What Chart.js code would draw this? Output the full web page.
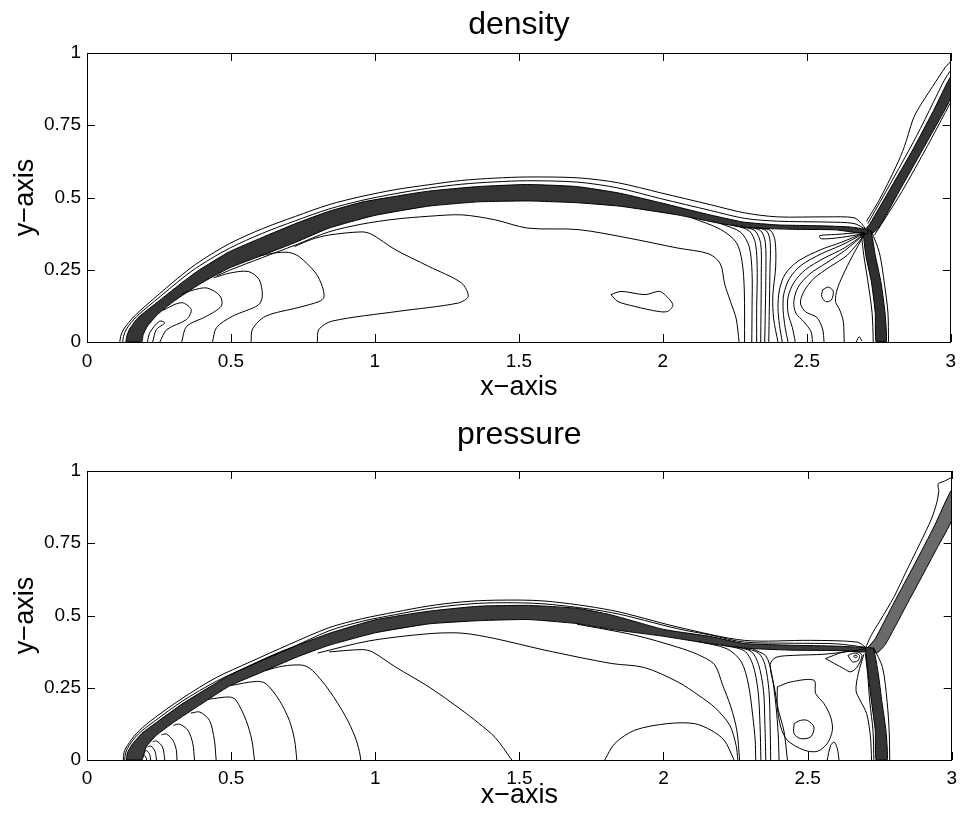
<!DOCTYPE html>
<html>
<head>
<meta charset="utf-8">
<script src="https://cdn.jsdelivr.net/npm/chart.js@4.4.1/dist/chart.umd.min.js"></script>
<style>
  html, body { margin: 0; padding: 0; background: #fff; }
  #wrap { position: relative; width: 964px; height: 821px; }
  .box { position: absolute; left: 0; width: 964px; }
</style>
</head>
<body>
<div id="wrap">
  <div class="box" style="top:0;height:410px"><canvas id="densityChart" width="964" height="410"></canvas></div>
  <div class="box" style="top:410px;height:411px"><canvas id="pressureChart" width="964" height="411"></canvas></div>
</div>
<script>
// axis ticks
var xTickVals = [0, 0.5, 1, 1.5, 2, 2.5, 3];
var xTickText = ['0', '0.5', '1', '1.5', '2', '2.5', '3'];
var yTickVals = [0, 0.25, 0.5, 0.75, 1];
var yTickText = ['0', '0.25', '0.5', '0.75', '1'];

// ---------------- density contours ([x, y]) ----------------
var densOuterA = [[0.114,0],[0.117,0.02],[0.128,0.045],[0.165,0.09],[0.253,0.168],[0.333,0.235],[0.391,0.278],[0.494,0.34],[0.609,0.392],[0.725,0.435],[0.84,0.475],[0.955,0.504],[1.07,0.527],[1.186,0.544],[1.301,0.559],[1.416,0.567],[1.531,0.571],[1.706,0.568],[1.844,0.551],[1.993,0.516],[2.166,0.475],[2.283,0.447],[2.398,0.433],[2.571,0.433],[2.664,0.43],[2.69,0.41],[2.705,0.39]];
var densOuterB = [[0.124,0],[0.127,0.02],[0.137,0.045],[0.172,0.088],[0.255,0.158],[0.333,0.222],[0.391,0.264],[0.494,0.324],[0.609,0.376],[0.725,0.42],[0.84,0.46],[0.955,0.49],[1.07,0.513],[1.186,0.532],[1.301,0.546],[1.416,0.554],[1.531,0.558],[1.706,0.553],[1.844,0.533],[1.993,0.496],[2.166,0.455],[2.283,0.428],[2.398,0.418],[2.571,0.415],[2.664,0.41],[2.705,0.39]];
var densBowTop = [[0.135,0],[0.138,0.02],[0.148,0.045],[0.178,0.085],[0.26,0.15],[0.333,0.208],[0.391,0.25],[0.494,0.312],[0.609,0.362],[0.725,0.41],[0.84,0.452],[0.955,0.484],[1.07,0.504],[1.186,0.522],[1.36,0.538],[1.531,0.545],[1.7,0.538],[1.85,0.515],[2.0,0.48],[2.15,0.443],[2.28,0.415],[2.4,0.405],[2.55,0.402],[2.65,0.398],[2.71,0.388]];
var densBowBottom = [[2.71,0.374],[2.6,0.388],[2.45,0.39],[2.3,0.395],[2.2,0.41],[2.05,0.44],[1.85,0.47],[1.7,0.482],[1.531,0.488],[1.36,0.485],[1.186,0.47],[1.0,0.438],[0.84,0.394],[0.725,0.345],[0.609,0.3],[0.494,0.256],[0.391,0.2],[0.3,0.14],[0.245,0.095],[0.21,0.055],[0.195,0.025],[0.19,0]];
var densBelow = [[0.45,0.228],[0.494,0.248],[0.609,0.292],[0.725,0.336],[0.84,0.381],[0.955,0.408],[1.07,0.425],[1.186,0.435],[1.301,0.44],[1.416,0.423],[1.531,0.394],[1.706,0.389],[1.879,0.36],[2.052,0.325],[2.16,0.305],[2.2,0.27],[2.215,0.2],[2.235,0.14],[2.255,0.08],[2.265,0]];
var densC1 = [[0.72,0.33],[0.78,0.355],[0.84,0.37],[0.955,0.381],[0.99,0.372],[1.07,0.32],[1.186,0.262],[1.301,0.204],[1.324,0.158],[1.29,0.135],[1.08,0.106],[0.85,0.072],[0.805,0.043],[0.8,0]];
var densC2 = [[0.6,0.298],[0.65,0.308],[0.70,0.31],[0.736,0.296],[0.794,0.239],[0.817,0.193],[0.823,0.155],[0.806,0.14],[0.737,0.12],[0.62,0.089],[0.575,0.045],[0.57,0]];
var densC3 = [[0.44,0.222],[0.494,0.238],[0.56,0.244],[0.598,0.216],[0.609,0.16],[0.595,0.128],[0.505,0.089],[0.45,0.05],[0.436,0]];
var densC4 = [[0.33,0.168],[0.39,0.185],[0.42,0.186],[0.462,0.16],[0.467,0.125],[0.415,0.089],[0.346,0.054],[0.329,0]];
var densC5 = [[0.265,0.11],[0.31,0.132],[0.335,0.135],[0.362,0.112],[0.346,0.078],[0.277,0.043],[0.253,0]];
var densC6 = [[0.21,0],[0.218,0.032],[0.252,0.072],[0.27,0.066],[0.241,0.043],[0.228,0]];
var densLoopA = [[1.82,0.164],[1.855,0.175],[1.938,0.164],[1.983,0.175],[2.0,0.17],[2.035,0.129],[2.017,0.106],[1.983,0.106],[1.903,0.123],[1.844,0.14],[1.82,0.164]];
var densLoopB = [[2.555,0.18],[2.575,0.19],[2.592,0.175],[2.585,0.145],[2.565,0.14],[2.552,0.158],[2.555,0.18]];
var densTongue = [[2.70,0.38],[2.6,0.372],[2.545,0.368],[2.55,0.357],[2.62,0.362],[2.70,0.375]];
var densLoopLine = [[2.70,0.372],[2.66,0.3],[2.625,0.23],[2.605,0.18],[2.6,0.14],[2.615,0.11],[2.627,0.07],[2.63,0]];
var densV2 = [[2.1,0.43],[2.2,0.39],[2.255,0.345],[2.275,0.28],[2.283,0.18],[2.284,0]];
var densV3 = [[2.2,0.41],[2.27,0.38],[2.3,0.33],[2.31,0.24],[2.31,0.12],[2.309,0]];
var densV4 = [[2.24,0.405],[2.3,0.385],[2.322,0.34],[2.328,0.24],[2.326,0.12],[2.326,0]];
var densV5 = [[2.27,0.4],[2.32,0.385],[2.34,0.34],[2.342,0.24],[2.34,0]];
var densV6 = [[2.3,0.398],[2.34,0.385],[2.356,0.345],[2.358,0.24],[2.354,0]];
var densV7 = [[2.32,0.396],[2.36,0.385],[2.373,0.345],[2.372,0.24],[2.368,0]];
var densV8 = [[2.34,0.395],[2.375,0.385],[2.39,0.35],[2.392,0.26],[2.382,0.16],[2.385,0.08],[2.4,0]];
var densFan1 = [[2.70,0.378],[2.62,0.345],[2.55,0.32],[2.47,0.28],[2.425,0.235],[2.405,0.18],[2.40,0.12],[2.405,0.06],[2.415,0]];
var densFan2 = [[2.70,0.376],[2.62,0.335],[2.55,0.305],[2.48,0.265],[2.44,0.22],[2.42,0.165],[2.418,0.11],[2.425,0.05],[2.435,0]];
var densFan3 = [[2.70,0.374],[2.63,0.325],[2.56,0.29],[2.495,0.25],[2.455,0.205],[2.435,0.155],[2.435,0.1],[2.45,0.05],[2.46,0]];
var densFan4 = [[2.70,0.372],[2.63,0.315],[2.57,0.275],[2.51,0.235],[2.47,0.19],[2.455,0.14],[2.462,0.1],[2.49,0.07],[2.515,0.035],[2.52,0]];
var densFan5 = [[2.70,0.37],[2.64,0.3],[2.58,0.26],[2.525,0.22],[2.49,0.175],[2.478,0.135],[2.495,0.105],[2.535,0.085],[2.555,0.045],[2.56,0]];
var densTiny = [[2.672,0],[2.682,0.018],[2.692,0.003]];
var densStemA = [[2.695,0.385],[2.705,0.3],[2.725,0.205],[2.738,0.1],[2.741,0]];
var densStemB = [[2.776,0],[2.772,0.1],[2.758,0.205],[2.738,0.3],[2.722,0.385]];
var densStemL = [[2.69,0.37],[2.698,0.3],[2.713,0.205],[2.727,0.1],[2.731,0]];
var densStemR = [[2.725,0.382],[2.752,0.31],[2.77,0.2],[2.782,0.1],[2.784,0]];
var densReflA = [[2.70,0.385],[2.72,0.41],[2.79,0.53],[2.868,0.665],[2.94,0.8],[3.0,0.918]];
var densReflB = [[3.0,0.845],[2.95,0.75],[2.902,0.665],[2.82,0.52],[2.75,0.395],[2.725,0.375]];
var densReflOuter = [[2.707,0.417],[2.752,0.492],[2.81,0.607],[2.839,0.676],[2.868,0.768],[2.885,0.803],[2.937,0.884],[2.983,0.953],[3.0,0.97]];
var densReflInner = [[2.712,0.41],[2.80,0.565],[2.88,0.71],[2.94,0.83],[2.98,0.91],[3.0,0.94]];
var densReflRight = [[2.735,0.37],[2.83,0.52],[2.92,0.68],[3.0,0.83]];

// ---------------- pressure contours ----------------
var presOuterA = [[0.126,0],[0.128,0.025],[0.14,0.05],[0.17,0.09],[0.22,0.135],[0.333,0.215],[0.448,0.285],[0.563,0.338],[0.702,0.4],[0.84,0.458],[0.955,0.489],[1.07,0.512],[1.186,0.533],[1.301,0.547],[1.416,0.553],[1.589,0.55],[1.819,0.518],[2.05,0.46],[2.28,0.414],[2.51,0.414],[2.672,0.408],[2.70,0.391]];
var presOuterB = [[0.131,0],[0.134,0.025],[0.147,0.052],[0.18,0.092],[0.235,0.135],[0.333,0.205],[0.448,0.272],[0.563,0.325],[0.702,0.385],[0.84,0.447],[0.955,0.48],[1.07,0.503],[1.186,0.524],[1.301,0.538],[1.416,0.544],[1.589,0.54],[1.819,0.51],[2.05,0.454],[2.165,0.432],[2.28,0.408],[2.45,0.404],[2.6,0.402],[2.7,0.39]];
var presBowTop = [[0.137,0],[0.14,0.025],[0.155,0.052],[0.19,0.092],[0.245,0.133],[0.333,0.196],[0.494,0.293],[0.66,0.37],[0.84,0.438],[1.0,0.485],[1.186,0.515],[1.358,0.532],[1.531,0.535],[1.7,0.525],[1.819,0.502],[2.0,0.452],[2.165,0.427],[2.28,0.403],[2.45,0.397],[2.6,0.394],[2.7,0.388]];
var presBowBottom = [[2.7,0.374],[2.6,0.379],[2.45,0.38],[2.3,0.386],[2.165,0.402],[2.0,0.428],[1.819,0.452],[1.7,0.472],[1.531,0.486],[1.358,0.482],[1.186,0.471],[1.0,0.44],[0.84,0.397],[0.725,0.355],[0.609,0.305],[0.494,0.256],[0.391,0.19],[0.3,0.13],[0.24,0.085],[0.205,0.045],[0.19,0]];
var presArc1 = [[0.84,0.374],[0.955,0.382],[0.99,0.374],[1.07,0.322],[1.186,0.253],[1.301,0.172],[1.358,0.128],[1.416,0.078],[1.474,0]];
var presArc2 = [[0.62,0.31],[0.68,0.325],[0.748,0.328],[0.782,0.31],[0.84,0.241],[0.898,0.149],[0.93,0.08],[0.945,0.03],[0.95,0]];
var presArc3 = [[0.5,0.258],[0.587,0.272],[0.621,0.264],[0.667,0.207],[0.702,0.137],[0.72,0.07],[0.728,0]];
var presArc4 = [[0.42,0.21],[0.494,0.218],[0.517,0.207],[0.552,0.137],[0.572,0.068],[0.581,0]];
var presArc5 = [[0.36,0.162],[0.391,0.166],[0.425,0.137],[0.442,0.068],[0.448,0]];
var presArc6 = [[0.3,0.12],[0.321,0.124],[0.35,0.103],[0.367,0.057],[0.373,0]];
var presArc7 = [[0.258,0.087],[0.275,0.09],[0.298,0.068],[0.31,0.034],[0.312,0]];
var presArc8 = [[0.228,0.063],[0.241,0.066],[0.262,0.045],[0.27,0]];
var presArc9 = [[0.21,0.045],[0.222,0.048],[0.236,0.03],[0.241,0]];
var presArc10 = [[0.2,0.03],[0.208,0.032],[0.218,0.018],[0.221,0]];
var presArc11 = [[0.195,0.015],[0.2,0.016],[0.206,0.006],[0.207,0]];
var presInnerA = [[0.80,0.37],[0.978,0.412],[1.186,0.437],[1.301,0.439],[1.416,0.42],[1.589,0.38],[1.819,0.334],[1.934,0.32],[2.05,0.27],[2.12,0.225],[2.18,0.18],[2.23,0.12],[2.252,0.05],[2.258,0]];
var presInnerB = [[1.7,0.47],[1.9,0.432],[2.05,0.39],[2.119,0.365],[2.177,0.33],[2.205,0.26],[2.234,0.183],[2.255,0.1],[2.264,0]];
var presV3 = [[2.12,0.41],[2.22,0.385],[2.27,0.34],[2.295,0.26],[2.31,0.15],[2.318,0.07],[2.32,0]];
var presV4 = [[2.2,0.398],[2.28,0.378],[2.31,0.33],[2.328,0.24],[2.335,0.12],[2.338,0]];
var presV5 = [[2.25,0.392],[2.305,0.375],[2.33,0.33],[2.347,0.24],[2.352,0.12],[2.355,0]];
var presV6 = [[2.28,0.388],[2.33,0.37],[2.352,0.33],[2.366,0.24],[2.37,0.12],[2.372,0]];
var presV7 = [[2.31,0.384],[2.355,0.36],[2.375,0.3],[2.39,0.19],[2.398,0.09],[2.401,0]];
var presV8 = [[2.70,0.385],[2.66,0.378],[2.557,0.366],[2.45,0.362],[2.39,0.355],[2.37,0.33],[2.385,0.25],[2.398,0.175],[2.418,0.1],[2.43,0]];
var presHump = [[1.796,0],[1.831,0.057],[1.9,0.103],[2.015,0.126],[2.107,0.126],[2.165,0.103],[2.211,0.068],[2.245,0]];
var presLoopBig = [[2.395,0.253],[2.441,0.27],[2.522,0.276],[2.528,0.23],[2.557,0.195],[2.58,0.149],[2.586,0.103],[2.568,0.057],[2.534,0.03],[2.488,0.034],[2.43,0.068],[2.407,0.114],[2.395,0.183],[2.395,0.253]];
var presLoopSmall = [[2.453,0.126],[2.475,0.137],[2.499,0.137],[2.522,0.114],[2.511,0.08],[2.476,0.074],[2.453,0.091],[2.453,0.126]];
var presBump = [[2.568,0],[2.58,0.05],[2.592,0.062],[2.603,0.04],[2.609,0]];
var presTriLoop1 = [[2.562,0.351],[2.626,0.374],[2.672,0.374],[2.689,0.362],[2.672,0.322],[2.649,0.305],[2.626,0.316],[2.562,0.351]];
var presTriLoop2 = [[2.64,0.362],[2.662,0.37],[2.68,0.362],[2.674,0.343],[2.655,0.34],[2.64,0.362]];
var presTriLoop3 = [[2.66,0.36],[2.668,0.363],[2.672,0.357],[2.664,0.354],[2.66,0.36]];
var presStemA = [[2.70,0.39],[2.71,0.3],[2.722,0.2],[2.735,0.1],[2.738,0]];
var presStemB = [[2.776,0],[2.772,0.1],[2.758,0.2],[2.745,0.3],[2.728,0.385]];
var presStemL = [[2.70,0.37],[2.708,0.3],[2.716,0.2],[2.727,0.1],[2.73,0]];
var presStemR = [[2.728,0.39],[2.76,0.32],[2.776,0.2],[2.783,0.1],[2.785,0]];
var presStemBulge = [[2.695,0.365],[2.676,0.3],[2.668,0.24],[2.683,0.205],[2.705,0.16],[2.718,0.08],[2.722,0]];
var presReflA = [[2.71,0.39],[2.735,0.42],[2.80,0.545],[2.87,0.675],[2.94,0.81],[3.0,0.935]];
var presReflB = [[3.0,0.83],[2.95,0.735],[2.91,0.66],[2.84,0.53],[2.77,0.4],[2.74,0.37]];
var presReflOuter = [[2.70,0.385],[2.72,0.43],[2.75,0.48],[2.80,0.565],[2.84,0.648],[2.89,0.75],[2.93,0.835],[2.948,0.89],[2.955,0.93],[2.953,0.955],[2.975,0.965],[3.0,0.978]];

var FONT = "'Liberation Sans', Arial, Helvetica, sans-serif";

function toXY(a) {
  return a.map(function (p) { return { x: p[0], y: p[1] }; });
}

// thin black contour line
function contour(a) {
  return { data: toXY(a), borderColor: '#000', borderWidth: 1, pointRadius: 0, tension: 0.3, fill: false };
}

// densely packed contours drawn as a shaded strip between two edges
function band(edgeA, edgeB, shade) {
  var ring = edgeA.concat(edgeB, [edgeA[0]]);
  return { data: toXY(ring), borderColor: '#000', borderWidth: 1, backgroundColor: shade, fill: 'shape', pointRadius: 0, tension: 0.15 };
}

// box round the plot with inward ticks on all four sides
var frameTicks = {
  id: 'frameTicks',
  afterDatasetsDraw: function (chart) {
    var ctx = chart.ctx, a = chart.chartArea, sx = chart.scales.x, sy = chart.scales.y;
    var len = 8;
    ctx.save();
    ctx.strokeStyle = '#000';
    ctx.lineWidth = 1;
    ctx.beginPath();
    xTickVals.forEach(function (v) {
      var px = Math.round(sx.getPixelForValue(v)) + 0.5;
      ctx.moveTo(px, a.bottom); ctx.lineTo(px, a.bottom - len);
      ctx.moveTo(px, a.top); ctx.lineTo(px, a.top + len);
    });
    yTickVals.forEach(function (v) {
      var py = Math.round(sy.getPixelForValue(v)) + 0.5;
      ctx.moveTo(a.left, py); ctx.lineTo(a.left + len, py);
      ctx.moveTo(a.right, py); ctx.lineTo(a.right - len, py);
    });
    ctx.stroke();
    ctx.strokeRect(Math.round(a.left) + 0.5, Math.round(a.top) + 0.5, Math.round(a.width) - 1, Math.round(a.height));
    ctx.restore();
  }
};

function plotOptions(titleText, titleBottomPad, xAxisH, xTickPad, xTitlePad) {
  return {
    responsive: false,
    animation: false,
    layout: { padding: { left: 0, right: 9, top: 0, bottom: 0 }, autoPadding: false },
    plugins: {
      legend: { display: false },
      tooltip: { enabled: false },
      title: {
        display: true, text: titleText, fullSize: false, color: '#000',
        font: { family: FONT, size: 32, weight: 'normal', lineHeight: 1.2 },
        padding: { top: 6, bottom: titleBottomPad }
      }
    },
    scales: {
      x: {
        type: 'linear', min: 0, max: 3,
        grid: { display: false, drawTicks: false },
        border: { display: false },
        afterFit: function (s) { s.height = xAxisH; },
        afterBuildTicks: function (s) { s.ticks = xTickVals.map(function (v) { return { value: v }; }); },
        ticks: {
          autoSkip: false, maxRotation: 0, padding: xTickPad, color: '#000',
          font: { family: FONT, size: 19 },
          callback: function (v, i) { return xTickText[i]; }
        },
        title: {
          display: true, text: 'x\u2212axis', color: '#000',
          font: { family: FONT, size: 27, weight: 'normal' },
          padding: { top: 0, bottom: xTitlePad }
        }
      },
      y: {
        type: 'linear', min: 0, max: 1,
        grid: { display: false, drawTicks: false },
        border: { display: false },
        afterFit: function (s) { s.width = 87; },
        afterBuildTicks: function (s) { s.ticks = yTickVals.map(function (v) { return { value: v }; }); },
        ticks: {
          autoSkip: false, padding: 6, color: '#000',
          font: { family: FONT, size: 19 },
          callback: function (v, i) { return yTickText[i]; }
        },
        title: {
          display: true, text: 'y\u2212axis', color: '#000',
          font: { family: FONT, size: 27, weight: 'normal' },
          padding: { top: 9, bottom: 0 }
        }
      }
    }
  };
}

// density plot
var densLines = [densOuterA, densOuterB, densBelow, densC1, densC2, densC3, densC4, densC5, densC6,
  densLoopA, densLoopB, densTongue, densLoopLine, densV2, densV3, densV4, densV5, densV6, densV7, densV8,
  densFan1, densFan2, densFan3, densFan4, densFan5, densTiny, densStemL, densStemR,
  densReflOuter, densReflInner, densReflRight].map(contour);
var densBands = [
  band(densBowTop, densBowBottom, '#353535'),
  band(densStemA, densStemB, '#2f2f2f'),
  band(densReflA, densReflB, '#353535')
];

new Chart(document.getElementById('densityChart').getContext('2d'), {
  type: 'line',
  data: { datasets: densLines.concat(densBands) },
  options: plotOptions('density', 8.6, 68, 8, 6),
  plugins: [frameTicks]
});

// pressure plot
var presLines = [presOuterA, presOuterB, presArc1, presArc2, presArc3, presArc4, presArc5, presArc6,
  presArc7, presArc8, presArc9, presArc10, presArc11, presInnerA, presInnerB, presV3, presV4, presV5,
  presV6, presV7, presV8, presHump, presLoopBig, presLoopSmall, presBump, presTriLoop1, presTriLoop2,
  presTriLoop3, presStemL, presStemR, presStemBulge, presReflOuter].map(contour);
var presBands = [
  band(presBowTop, presBowBottom, '#3c3c3c'),
  band(presStemA, presStemB, '#363636'),
  band(presReflA, presReflB, '#6a6a6a')
];

new Chart(document.getElementById('pressureChart').getContext('2d'), {
  type: 'line',
  data: { datasets: presLines.concat(presBands) },
  options: plotOptions('pressure', 16.6, 61, 7, 9),
  plugins: [frameTicks]
});
</script>
</body>
</html>
